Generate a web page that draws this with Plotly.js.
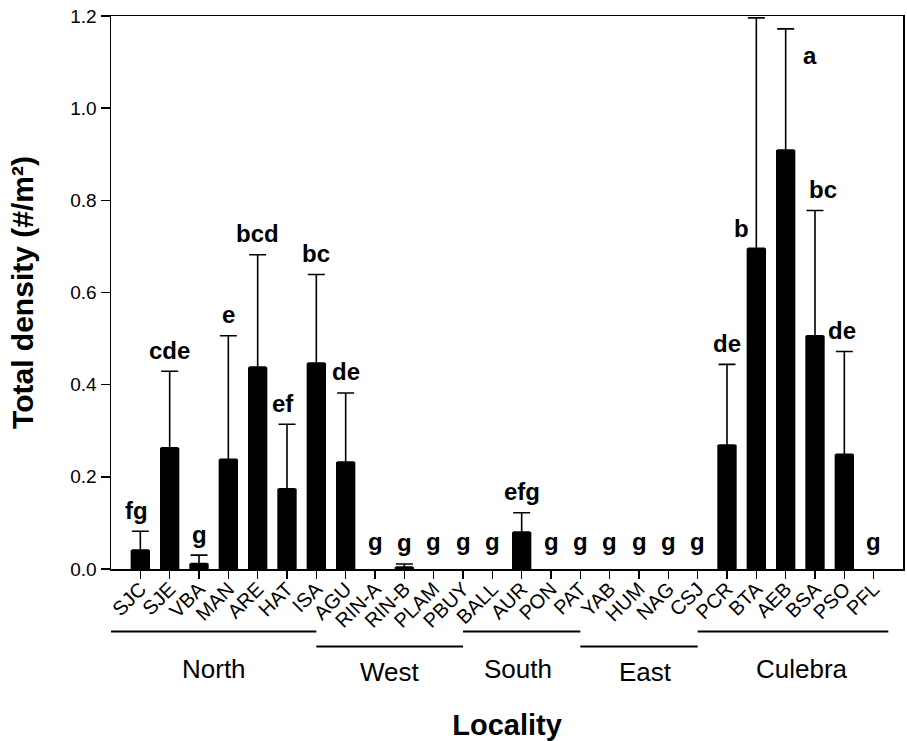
<!DOCTYPE html>
<html>
<head>
<meta charset="utf-8">
<script src="https://cdn.plot.ly/plotly-3.0.1.min.js"></script>
<style>html,body{margin:0;padding:0;background:#fff;}#chart{width:907px;height:741px;}</style>
</head>
<body>
<div id="chart"></div>
<script>
// ---- data ----
const localities = ["SJC","SJE","VBA","MAN","ARE","HAT","ISA","AGU","RIN-A","RIN-B","PLAM","PBUY","BALL","AUR","PON","PAT","YAB","HUM","NAG","CSJ","PCR","BTA","AEB","BSA","PSO","PFL"];
const density   = [0.041,0.263,0.012,0.238,0.438,0.174,0.447,0.232,0,0.004,0,0,0,0.080,0,0,0,0,0,0,0.269,0.696,0.909,0.506,0.249,0];
const errUpper  = [0.041,0.166,0.018,0.268,0.244,0.140,0.192,0.150,null,0.007,null,null,null,0.042,null,null,null,null,null,null,0.175,0.500,0.263,0.272,0.223,null];
const letters   = ["fg","cde","g","e","bcd","ef","bc","de","g","g","g","g","g","efg","g","g","g","g","g","g","de","b","a","bc","de","g"];
const groupNames = ["North","West","South","East","Culebra"];
const groupSizes = [7,5,4,4,6];

// ---- style ----
const FONT = "Liberation Sans, Arial, sans-serif";
const letterShiftX = {0:-4, 5:-4, 21:-15, 22:24, 23:8, 24:-2};
const groupLabelShift = [0, 0, -4, 6, 9];

const annotations = [];
localities.forEach((loc, i) => {
  const top = density[i] + (errUpper[i] || 0);
  let y = top, yshift = 21, xshift = letterShiftX[i] || 0;
  if (density[i] === 0) yshift = 28;
  if (i === 21) { y = density[i]; yshift = 20; }
  if (i === 22) { yshift = -27; }
  annotations.push({
    x: loc, y: y, xref: 'x', yref: 'y', text: letters[i], showarrow: false,
    xanchor: 'center', yanchor: 'middle', xshift: xshift, yshift: yshift,
    font: {family: FONT, size: 24, color: '#000', weight: 'bold'}
  });
});

const shapes = [];
let start = 0;
groupNames.forEach((g, k) => {
  const first = start, last = start + groupSizes[k] - 1;
  const x0 = first - 1, x1 = (k === groupNames.length - 1) ? last + 0.5 : last;
  const ly = (k % 2 === 0) ? -0.113 : -0.140;
  shapes.push({type: 'line', xref: 'x', yref: 'paper', x0: x0, x1: x1, y0: ly, y1: ly,
    line: {color: '#000', width: 2}});
  annotations.push({x: (x0 + x1) / 2, y: (k % 2 === 0) ? -0.180 : -0.186, xref: 'x', yref: 'paper',
    text: g, showarrow: false, xanchor: 'center', yanchor: 'middle', xshift: groupLabelShift[k],
    font: {family: FONT, size: 26, color: '#000'}});
  start += groupSizes[k];
});

const trace = {
  type: 'bar', x: localities, y: density.map(v => v === 0 ? null : v), width: 0.66,
  marker: {color: '#000', line: {width: 0}},
  error_y: {type: 'data', symmetric: false, array: errUpper, arrayminus: localities.map(() => 0),
    color: '#000', thickness: 1.6, width: 8.5, visible: true},
  hoverinfo: 'x+y'
};

const layout = {
  width: 907, height: 741,
  margin: {l: 111, r: 4, t: 16, b: 172},
  paper_bgcolor: '#fff', plot_bgcolor: '#fff',
  showlegend: false,
  font: {family: FONT, color: '#000'},
  xaxis: {
    type: 'category', range: [-1, 26], tickangle: -45,
    ticks: 'outside', ticklen: 8, tickwidth: 1.5, tickcolor: '#000',
    ticklabelstandoff: -9,
    showline: true, linecolor: '#000', linewidth: 1.5, mirror: true,
    showgrid: false, zeroline: false,
    tickfont: {family: FONT, size: 20, color: '#000'},
    title: {text: 'Locality', font: {family: FONT, size: 29, color: '#000', weight: 'bold'}, standoff: 88}
  },
  yaxis: {
    range: [0, 1.2], dtick: 0.2, tick0: 0, tickformat: '.1f',
    ticks: 'outside', ticklen: 9, tickwidth: 1.5, tickcolor: '#000',
    showline: true, linecolor: '#000', linewidth: 1.5, mirror: true,
    showgrid: false, zeroline: false,
    tickfont: {family: FONT, size: 19, color: '#000'},
    title: {text: 'Total density (#/m²)', font: {family: FONT, size: 30, color: '#000', weight: 'bold'}, standoff: 28}
  },
  annotations: annotations,
  shapes: shapes
};

Plotly.newPlot('chart', [trace], layout, {displayModeBar: false, staticPlot: true});
</script>
</body>
</html>
